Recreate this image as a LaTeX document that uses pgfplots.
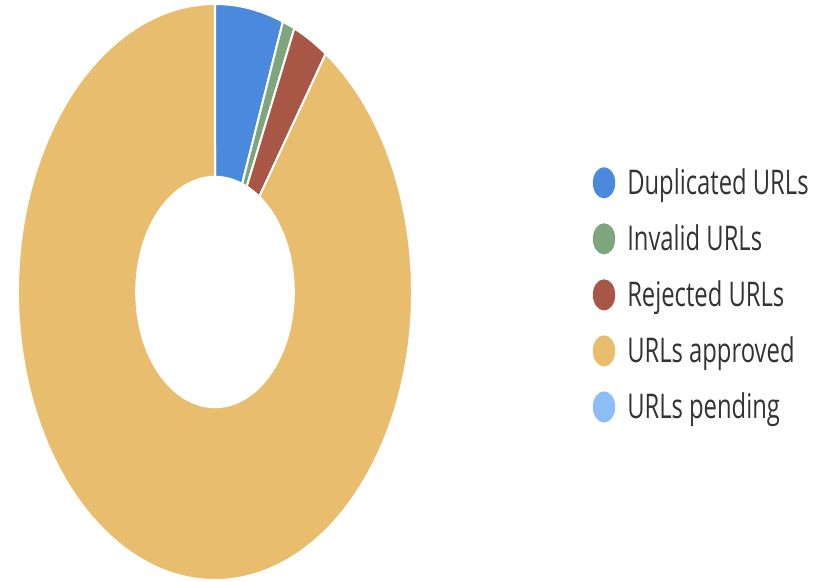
\documentclass[border=0pt]{standalone}
\usepackage{pgfplots}
\pgfplotsset{compat=1.18}
\usepackage{fontspec}
\setmainfont{Open Sans}
\usepackage{graphicx}
\definecolor{dup}{RGB}{74,137,220}
\definecolor{inv}{RGB}{126,165,126}
\definecolor{rej}{RGB}{168,86,70}
\definecolor{app}{RGB}{232,189,110}
\definecolor{pen}{RGB}{141,189,245}
\definecolor{txt}{RGB}{51,51,51}
% wedge: start percent, end percent, colour
\newcommand{\donutwedge}[3]{%
  \fill[#3, draw=white, line width=1pt]
    (axis cs:{0.4*cos(90-3.6*#1)},{0.4*sin(90-3.6*#1)}) --
    (axis cs:{cos(90-3.6*#1)},{sin(90-3.6*#1)})
    arc[start angle={90-3.6*#1}, end angle={90-3.6*#2}, x radius=98.5pt, y radius=144pt] --
    (axis cs:{0.4*cos(90-3.6*#2)},{0.4*sin(90-3.6*#2)})
    arc[start angle={90-3.6*#2}, end angle={90-3.6*#1}, x radius=39.4pt, y radius=57.6pt] -- cycle;}
\newcommand{\lt}[1]{\scalebox{0.70}[1]{#1}}
\begin{document}
\begin{tikzpicture}
\useasboundingbox (-9pt,-1pt) rectangle (399.5pt,290pt);
\begin{axis}[
  scale only axis, width=197pt, height=288pt,
  xmin=-1, xmax=1, ymin=-1, ymax=1,
  hide axis, clip=false,
  legend style={at={(1.459,0.495)}, anchor=west, draw=none, fill=none,
    inner sep=0pt, outer sep=0pt, row sep=9.6pt,
    font=\fontsize{17}{20}\selectfont\color{txt},
    /tikz/every odd column/.append style={column sep=4pt}},
  legend cell align=left,
  legend image code/.code={\fill (5.5pt,0pt) ellipse[x radius=5.6pt, y radius=7.8pt];},
]
% values in percent: Duplicated 5.6, Invalid 1.0, Rejected 2.9, Approved 90.5, Pending 0
\donutwedge{0}{5.6}{dup}
\donutwedge{5.6}{6.6}{inv}
\donutwedge{6.6}{9.5}{rej}
\donutwedge{9.5}{100}{app}
\addlegendimage{fill=dup, draw=none}\addlegendentry{\lt{Duplicated URLs}}
\addlegendimage{fill=inv, draw=none}\addlegendentry{\lt{Invalid URLs}}
\addlegendimage{fill=rej, draw=none}\addlegendentry{\lt{Rejected URLs}}
\addlegendimage{fill=app, draw=none}\addlegendentry{\lt{URLs approved}}
\addlegendimage{fill=pen, draw=none}\addlegendentry{\lt{URLs pending}}
\end{axis}
\end{tikzpicture}
\end{document}
